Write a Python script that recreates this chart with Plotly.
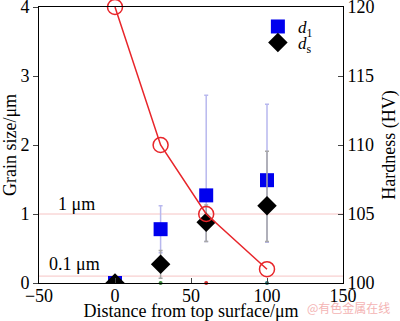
import plotly.graph_objects as go

distance = [0, 30, 60, 100]
hardness = [120, 110, 105, 101]
d1 = [0.0, 0.78, 1.27, 1.49]
d1_err_plus = [0.0, 0.34, 1.45, 1.1]
d1_err_minus = [0.0, 0.34, 0.67, 0.9]
ds = [0.0, 0.27, 0.88, 1.12]
ds_err_plus = [0.0, 0.2, 0.25, 0.79]
ds_err_minus = [0.0, 0.2, 0.28, 0.52]
ref_lines = [1.0, 0.1]
ref_labels = ["1 μm", "0.1 μm"]

serif = "Liberation Serif, Times New Roman, serif"
fig = go.Figure()

for v in ref_lines:
    fig.add_trace(go.Scatter(x=[-50, 150], y=[v, v], mode="lines",
                             line=dict(color="#f6c4c4", width=1), showlegend=False, hoverinfo="skip"))

fig.add_trace(go.Scatter(x=distance[1:], y=[0, 0, 0], mode="markers",
                         marker=dict(size=4, color=["#3a8a3a", "#d03030", "#2a7a7a"]),
                         showlegend=False, cliponaxis=False))

fig.add_trace(go.Scatter(x=distance, y=d1, mode="markers", name="<i>d</i><sub>1</sub>",
                         legend="legend",
                         marker=dict(symbol="square", size=14, color="#0000ee"),
                         error_y=dict(type="data", symmetric=False, array=d1_err_plus,
                                      arrayminus=d1_err_minus, color="#b8b8ee", thickness=1.5, width=2)))
fig.add_trace(go.Scatter(x=distance, y=ds, mode="markers", name="<i>d</i><sub>s</sub>",
                         legend="legend2",
                         marker=dict(symbol="diamond", size=15, color="black"),
                         error_y=dict(type="data", symmetric=False, array=ds_err_plus,
                                      arrayminus=ds_err_minus, color="#a8a8a8", thickness=1.5, width=2)))

fig.add_trace(go.Scatter(x=distance, y=hardness, mode="lines+markers", yaxis="y2", showlegend=False,
                         line=dict(color="#e8252a", width=1.5),
                         marker=dict(symbol="circle-open", size=15, color="#e8252a", line=dict(width=1.5)),
                         cliponaxis=False))

fig.add_annotation(x=-39, y=1.14, text=ref_labels[0], showarrow=False, xanchor="left",
                   font=dict(family=serif, size=18, color="black"))
fig.add_annotation(x=-45, y=0.28, text=ref_labels[1], showarrow=False, xanchor="left",
                   font=dict(family=serif, size=18, color="black"))
fig.add_annotation(x=1.0, y=-0.09, xref="paper", yref="paper", text="@有色金属在线", showarrow=False,
                   xanchor="left", yanchor="middle", xshift=-38,
                   font=dict(family="Noto Sans CJK SC", size=12, color="#f4b4b4"))

legend_style = dict(xanchor="left", yanchor="top", bgcolor="rgba(0,0,0,0)",
                    font=dict(family=serif, size=17), itemwidth=30)

fig.update_layout(
    width=400, height=321, margin=dict(l=39, r=57, t=7, b=38),
    paper_bgcolor="white", plot_bgcolor="white",
    font=dict(family=serif, size=18, color="black"),
    xaxis=dict(range=[-50, 150], tickvals=[-50, 0, 50, 100, 150], ticks="inside", ticklen=5,
               showline=True, linecolor="black", linewidth=1, mirror=True, showgrid=False, zeroline=False,
               tickfont=dict(size=18), automargin=False, ticklabelstandoff=-4, ticklabeloverflow="allow",
               title=dict(text="Distance from top surface/μm", standoff=0, font=dict(size=18))),
    yaxis=dict(range=[0, 4], tickvals=[0, 1, 2, 3, 4], ticks="outside", ticklen=5,
               showline=True, linecolor="black", linewidth=1, showgrid=False, zeroline=False,
               tickfont=dict(size=18), automargin=False, ticklabeloverflow="allow",
               title=dict(text="Grain size/μm", standoff=4, font=dict(size=18))),
    yaxis2=dict(range=[100, 120], tickvals=[100, 105, 110, 115, 120], ticks="inside", ticklen=5,
                overlaying="y", side="right", showline=True, linecolor="black", linewidth=1,
                showgrid=False, zeroline=False, tickfont=dict(size=18), automargin=False,
                ticklabeloverflow="allow",
                title=dict(text="Hardness (HV)", standoff=18, font=dict(size=18))),
    legend=dict(x=0.72, y=0.993, **legend_style),
    legend2=dict(x=0.72, y=0.935, **legend_style),
)

fig.write_html("out.html")
